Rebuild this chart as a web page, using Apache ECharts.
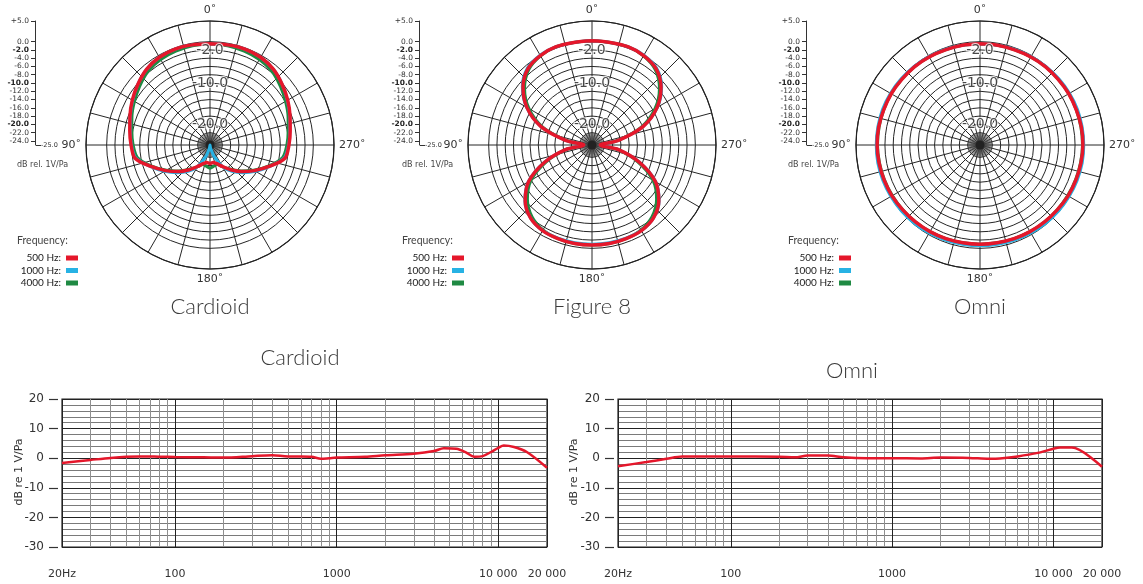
<!DOCTYPE html>
<html>
<head>
<meta charset="utf-8">
<title>Polar patterns and frequency response</title>
<script src="https://cdn.jsdelivr.net/npm/echarts@6.0.0/dist/echarts.min.js"></script>
<style>
  html, body { margin: 0; padding: 0; background: #fff; }
  #main { width: 1143px; height: 584px; }
</style>
</head>
<body>
<div id="main"></div>
<script>
// polar readings in dB, 0..180 deg (the patterns are symmetric, right half mirrors)
const ANGLES = [0, 10, 20, 30, 40, 50, 60, 70, 80, 90, 100, 110, 120, 130, 140, 150, 160, 170, 180];

const CARD_500  = [-0.5, -0.4, -0.3, -0.5, -1.1, -2.2, -3.3, -4.4, -5.3, -5.9, -6.6, -9.8, -12.6, -15.0, -17.2, -19.0, -20.2, -20.7, -20.5];
const CARD_1000 = [-0.5, -0.4, -0.3, -0.5, -1.1, -2.2, -3.4, -4.5, -5.4, -6.0, -6.8, -9.7, -12.3, -14.6, -16.7, -19.0, -22.0, -24.3, -25.0];
const CARD_4000 = [-0.5, -0.6, -0.8, -1.1, -1.7, -2.8, -3.9, -4.9, -5.8, -6.4, -7.2, -10.0, -12.8, -15.2, -17.4, -18.9, -20.0, -19.8, -19.4];

const FIG8_500  = [0.2, 0.2, 0.3, 0.0, -0.9, -3.2, -6.8, -11.8, -18.5, -23.0, -18.5, -12.8, -7.3, -3.9, -1.9, -1.1, -0.9, -0.8, -0.8];
const FIG8_1000 = [0.2, 0.2, 0.3, 0.1, -0.7, -3.0, -6.7, -11.8, -18.5, -23.0, -18.5, -12.7, -7.2, -3.8, -1.9, -1.1, -1.0, -1.0, -1.0];
const FIG8_4000 = [0.2, 0.2, 0.3, -0.1, -1.2, -3.7, -7.4, -12.3, -18.8, -23.0, -18.8, -13.3, -8.0, -4.6, -2.4, -1.3, -0.9, -0.8, -0.8];

const OMNI_500  = [-0.5, -0.5, -0.5, -0.4, -0.3, -0.3, -0.2, -0.2, -0.1, -0.1, -0.2, -0.3, -0.4, -0.6, -0.7, -0.8, -0.9, -1.0, -1.0];
const OMNI_1000 = [-0.5, -0.5, -0.4, -0.3, -0.2, -0.1, 0.0, 0.1, 0.1, 0.1, 0.1, 0.0, -0.1, -0.2, -0.3, -0.4, -0.5, -0.6, -0.6];
const OMNI_4000 = [-0.5, -0.5, -0.5, -0.4, -0.3, -0.3, -0.2, -0.2, -0.2, -0.2, -0.3, -0.4, -0.5, -0.6, -0.7, -0.8, -0.9, -1.0, -1.0];

const FREQ_NAMES = ['500 Hz', '1000 Hz', '4000 Hz'];
const FREQ_COLORS = ['#e5172b', '#27b2e4', '#1f8a43'];

// polar grid
const RING_DB = [-24, -22, -20, -18, -16, -14, -12, -10, -8, -6, -4, -2, 0, 5];
const RING_LABELS = [-2, -10, -20];
const ANGLE_LABELS = [0, 90, 180, 270];
const SCALE_TICKS = [5, 0, -2, -4, -6, -8, -10, -12, -14, -16, -18, -20, -22, -24];
const SCALE_BOLD = [-2, -10, -20];

// frequency response readings
const CARD_FREQS = [20, 30, 40, 50, 60, 80, 100, 150, 200, 300, 400, 500, 600, 700, 800, 900, 1000, 1500, 2000, 3000, 4000, 4600, 5500, 6300, 7100, 8000, 9000, 10000, 10800, 12500, 15000, 20000];
const CARD_RESP  = [-1.6, -0.6, 0.1, 0.5, 0.6, 0.5, 0.4, 0.3, 0.2, 0.7, 1.0, 0.6, 0.6, 0.5, -0.2, 0.0, 0.2, 0.5, 1.0, 1.5, 2.4, 3.4, 3.2, 2.0, 0.5, 0.7, 2.1, 3.5, 4.3, 3.8, 2.1, -3.2];
const OMNI_FREQS = [20, 30, 40, 50, 100, 200, 250, 300, 400, 500, 700, 1000, 1500, 2000, 3000, 4000, 5000, 6000, 8000, 10000, 11000, 13000, 20000];
const OMNI_RESP  = [-2.7, -1.3, -0.2, 0.6, 0.6, 0.5, 0.3, 0.9, 0.9, 0.3, 0.0, 0.0, -0.1, 0.2, 0.1, -0.2, 0.1, 0.6, 1.8, 3.2, 3.6, 3.6, -2.9];

const FREQ_TICKS = [20, 100, 1000, 10000, 20000];
const FREQ_TICK_LABELS = ['20Hz', '100', '1000', '10 000', '20 000'];
const MINOR_FREQS = [30, 40, 50, 60, 70, 80, 90, 200, 300, 400, 500, 600, 700, 800, 900, 2000, 3000, 4000, 5000, 6000, 7000, 8000, 9000];
const DB_TICKS = [20, 10, 0, -10, -20, -30];

const chart = echarts.init(document.getElementById('main'));

const FONT = 'DejaVu Sans';
const TITLE_FONT = 'Lato';

function mirror(vals) {
  const out = ANGLES.map((a, i) => [vals[i], a]);
  for (let i = ANGLES.length - 2; i >= 0; i--) {
    out.push([vals[i], 360 - ANGLES[i]]);
  }
  return out;
}

const PATTERNS = [
  { title: 'Cardioid', cx: 210, scaleX: 35, legendX: 10, textX: 12, data: [CARD_500, CARD_1000, CARD_4000] },
  { title: 'Figure 8', cx: 592, scaleX: 419, legendX: 396, textX: 397, data: [FIG8_500, FIG8_1000, FIG8_4000] },
  { title: 'Omni', cx: 980, scaleX: 806, legendX: 783, textX: 783, data: [OMNI_500, OMNI_1000, OMNI_4000] }
];
const CY = 145;
const R = 124;

// one colour per radius tick (-25..5), only ring levels are drawn
const ringColors = [];
for (let v = -25; v <= 5; v++) {
  ringColors.push(RING_DB.includes(v) ? '#262626' : 'rgba(0,0,0,0)');
}

const polar = [];
const angleAxis = [];
const radiusAxis = [];
const grid = [];
const xAxis = [];
const yAxis = [];
const series = [];
const legend = [];
const title = [];
const graphic = [];

PATTERNS.forEach((p, i) => {
  polar.push({ center: [p.cx, CY], radius: R });
  angleAxis.push({
    polarIndex: i, type: 'value', min: 0, max: 360, interval: 15,
    startAngle: 90, clockwise: false,
    axisLine: { lineStyle: { color: '#222', width: 1.2 } },
    axisTick: { show: false },
    axisLabel: {
      margin: 5, fontSize: 11, color: '#333', fontFamily: FONT,
      formatter: v => ANGLE_LABELS.includes(v) ? v + '\u02da' : ''
    },
    splitLine: { lineStyle: { color: '#262626', width: 1 } }
  });
  radiusAxis.push({
    polarIndex: i, type: 'value', min: -25, max: 5, interval: 1,
    axisLine: { show: false }, axisTick: { show: false }, axisLabel: { show: false },
    splitLine: { show: true, lineStyle: { color: ringColors, width: 1 } }
  });

  // curves: 4000 first so 500 sits on top
  [2, 1, 0].forEach(k => {
    series.push({
      name: FREQ_NAMES[k], type: 'line', coordinateSystem: 'polar', polarIndex: i,
      data: mirror(p.data[k]), smooth: 0.3, symbol: 'none', silent: true,
      color: FREQ_COLORS[k],
      lineStyle: { color: FREQ_COLORS[k], width: k === 0 ? 3.5 : 3 },
      z: 4 + (2 - k)
    });
  });

  // ring value labels on the 0 deg spoke
  series.push({
    type: 'scatter', coordinateSystem: 'polar', polarIndex: i, silent: true,
    data: RING_LABELS.map(v => [v, 0]), symbolSize: 1,
    itemStyle: { color: 'rgba(0,0,0,0)' },
    label: {
      show: true, position: 'inside', fontSize: 14, color: '#1a1a1a', fontFamily: FONT,
      textBorderColor: '#fff', textBorderWidth: 2,
      formatter: prm => prm.value[0].toFixed(1)
    },
    z: 10
  });
  // dark hub
  series.push({
    type: 'scatter', coordinateSystem: 'polar', polarIndex: i, silent: true,
    data: [[-25, 0]], symbolSize: 9, itemStyle: { color: '#1a1a1a' }, z: 3
  });

  // dB scale at the left of each polar
  grid.push({ left: p.scaleX, top: CY - R, width: 1, height: R });
  xAxis.push({ gridIndex: i, type: 'value', show: false });
  yAxis.push({
    gridIndex: i, type: 'value', min: -25, max: 5, position: 'left',
    axisLine: { show: true, lineStyle: { color: '#333', width: 1 } },
    axisTick: { show: true, customValues: SCALE_TICKS, length: 4, lineStyle: { color: '#333' } },
    axisLabel: {
      customValues: SCALE_TICKS, fontSize: 7.5, color: '#333', margin: 6, fontFamily: FONT,
      formatter: v => {
        const s = v > 0 ? '+' + v.toFixed(1) : v.toFixed(1);
        return SCALE_BOLD.includes(v) ? '{b|' + s + '}' : s;
      },
      rich: { b: { fontSize: 7.5, fontWeight: 'bold', color: '#222', fontFamily: FONT } }
    },
    splitLine: { show: false }
  });
  yAxis.push({
    gridIndex: i, type: 'value', min: -25, max: 5, position: 'right',
    axisLine: { show: false },
    axisTick: { show: true, customValues: [-25], length: 5, lineStyle: { color: '#333' } },
    axisLabel: { customValues: [-25], fontSize: 6.5, color: '#333', margin: 5, fontFamily: FONT, formatter: v => v.toFixed(1) },
    splitLine: { show: false }
  });

  legend.push({
    orient: 'vertical', left: p.legendX, top: 247, align: 'right',
    icon: 'rect', itemWidth: 12, itemHeight: 5, itemGap: 0.5, selectedMode: false,
    data: FREQ_NAMES, formatter: '{name}:',
    textStyle: { fontSize: 10, color: '#222', width: 46, lineHeight: 12, fontFamily: TITLE_FONT }
  });

  title.push({ text: 'Frequency:', left: p.textX, top: 230, textStyle: { fontSize: 10.5, fontWeight: 'normal', color: '#444', fontFamily: TITLE_FONT } });
  title.push({ text: 'dB rel. 1V/Pa', left: p.textX, top: 156, textStyle: { fontSize: 8, fontWeight: 'normal', color: '#444', fontFamily: FONT } });
  title.push({ text: p.title, left: p.cx - 5, top: 291, textAlign: 'center', textStyle: { fontSize: 22, fontWeight: 300, color: '#3a3a3a', fontFamily: TITLE_FONT } });
});

// small polars for the dense spokes at the centre
PATTERNS.forEach((p, i) => {
  polar.push({ center: [p.cx, CY], radius: 12 });
  angleAxis.push({
    polarIndex: 3 + i, type: 'value', min: 0, max: 360, interval: 5, startAngle: 90,
    axisLine: { show: false }, axisTick: { show: false }, axisLabel: { show: false },
    splitLine: { lineStyle: { color: '#444', width: 0.7 } }
  });
  radiusAxis.push({
    polarIndex: 3 + i, type: 'value', min: 0, max: 1,
    axisLine: { show: false }, axisTick: { show: false }, axisLabel: { show: false }, splitLine: { show: false }
  });
});

// frequency response charts
const RESPONSES = [
  { title: 'Cardioid', titleX: 295, titleY: 342, left: 62, right: 596, nameX: 19, freqs: CARD_FREQS, vals: CARD_RESP },
  { title: 'Omni', titleX: 847, titleY: 355, left: 618, right: 41, nameX: 574, freqs: OMNI_FREQS, vals: OMNI_RESP }
];
RESPONSES.forEach((r, j) => {
  const gi = 3 + j;
  const yLab = yAxis.length;
  grid.push({ left: r.left, right: r.right, top: 399, bottom: 37, show: true, borderColor: '#222', borderWidth: 1.2, backgroundColor: 'transparent' });
  xAxis.push({
    gridIndex: gi, type: 'log', logBase: 10, min: 20, max: 20000, offset: 5,
    axisLine: { show: false },
    axisTick: { show: true, customValues: FREQ_TICKS, length: 7, lineStyle: { color: '#333', width: 1.2 } },
    axisLabel: {
      customValues: FREQ_TICKS, margin: 17, fontSize: 11, color: '#333', fontFamily: FONT,
      formatter: v => FREQ_TICK_LABELS[FREQ_TICKS.indexOf(Math.round(v))] || ''
    },
    splitLine: { show: true, lineStyle: { color: '#222', width: 1 } }
  });
  // ticks and labels
  yAxis.push({
    gridIndex: gi, type: 'value', min: -30, max: 20, offset: 4,
    axisLine: { show: false },
    axisTick: { show: true, customValues: DB_TICKS, length: 9, lineStyle: { color: '#333', width: 1.2 } },
    axisLabel: { customValues: DB_TICKS, margin: 14, fontSize: 12, color: '#333', fontFamily: FONT },
    splitLine: { show: false }
  });
  // 2 dB grid lines, darker every 10 dB
  yAxis.push({
    gridIndex: gi, type: 'value', min: -30, max: 20, interval: 2,
    axisLine: { show: false }, axisTick: { show: false }, axisLabel: { show: false },
    splitLine: { show: true, lineStyle: { color: ['#222', '#7a7a7a', '#7a7a7a', '#7a7a7a', '#7a7a7a'], width: 1 } }
  });
  // minor log grid lines
  series.push({
    type: 'line', xAxisIndex: gi, yAxisIndex: yLab, data: [], silent: true, z: 1,
    markLine: {
      silent: true, symbol: ['none', 'none'], animation: false,
      label: { show: false },
      lineStyle: { color: '#8f8f8f', width: 1, type: 'solid' },
      data: MINOR_FREQS.map(f => ({ xAxis: f }))
    }
  });
  series.push({
    type: 'line', xAxisIndex: gi, yAxisIndex: yLab, silent: true, z: 10,
    data: r.freqs.map((f, k) => [f, r.vals[k]]),
    smooth: 0.3, symbol: 'none',
    lineStyle: { color: '#e5172b', width: 2.5 }
  });
  title.push({ text: r.title, left: r.titleX, top: r.titleY, textAlign: 'center', textStyle: { fontSize: 22, fontWeight: 300, color: '#3a3a3a', fontFamily: TITLE_FONT } });
  // rotated y axis name
  graphic.push({
    type: 'text', x: r.nameX, y: 472, rotation: Math.PI / 2, silent: true,
    style: { text: 'dB re 1 V/Pa', fontSize: 11, fill: '#333', fontFamily: FONT, align: 'center', verticalAlign: 'middle' }
  });
});

chart.setOption({
  animation: false,
  backgroundColor: '#fff',
  title, legend, polar, angleAxis, radiusAxis, grid, xAxis, yAxis, series, graphic
});
</script>
</body>
</html>
